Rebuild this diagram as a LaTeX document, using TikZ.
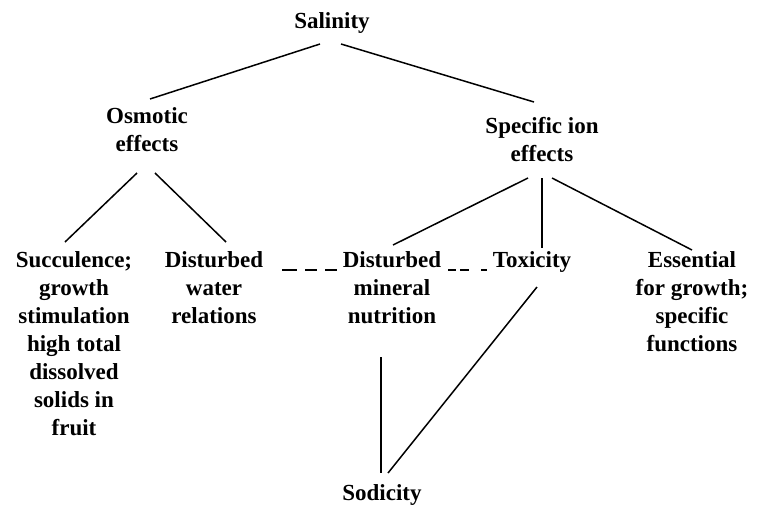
\documentclass[tikz,border=0pt]{standalone}
\usepackage{fontspec}
\setmainfont{Liberation Serif}
\begin{document}
\begin{tikzpicture}[x=1pt,y=-1pt,
  lbl/.style={anchor=base,inner sep=0pt,align=center,font=\fontsize{23}{28}\selectfont\bfseries},
  conn/.style={line width=1.5pt},
  dsh/.style={line width=2pt}]
\useasboundingbox (0,0) rectangle (758,504);
% base anchor = baseline of the last line
\node[lbl] (sal) at (332,28) {Salinity};
\node[lbl] (osm) at (147,151) {Osmotic\\effects};
\node[lbl] (spe) at (542,161) {Specific ion\\effects};
\node[lbl] (suc) at (74,435) {Succulence;\\growth\\stimulation\\high total\\dissolved\\solids in\\fruit};
\node[lbl] (wat) at (214,323) {Disturbed\\water\\relations};
\node[lbl] (min) at (392,323) {Disturbed\\mineral\\nutrition};
\node[lbl] (tox) at (532,267) {Toxicity};
\node[lbl] (ess) at (692,351) {Essential\\for growth;\\specific\\functions};
\node[lbl] (sod) at (382,500) {Sodicity};
% connectors
\draw[conn] ([shift={(-12,16)}]sal.base) -- ([shift={(3,-52)}]osm.base);
\draw[conn] ([shift={(9,16)}]sal.base) -- ([shift={(-8,-59)}]spe.base);
\draw[conn] ([shift={(-10,22)}]osm.base) -- ([shift={(-9,-193)}]suc.base);
\draw[conn] ([shift={(8,22)}]osm.base) -- ([shift={(12,-81)}]wat.base);
\draw[conn] ([shift={(-14,17)}]spe.base) -- ([shift={(1,-78)}]min.base);
\draw[conn] ([shift={(0,17)}]spe.base) -- ([shift={(10,-19)}]tox.base);
\draw[conn] ([shift={(10,17)}]spe.base) -- ([shift={(0,-101)}]ess.base);
\draw[dsh,dash pattern=on 15pt off 8pt on 12pt off 8pt on 12pt] ([shift={(68,-53)}]wat.base) -- ([shift={(-55,-53)}]min.base);
\draw[dsh,dash pattern=on 8pt off 4pt on 9pt off 12pt on 7pt] ([shift={(56,-53)}]min.base) -- ([shift={(-45,3)}]tox.base);
\draw[conn] ([shift={(-11,34)}]min.base) -- ([shift={(-1,-27)}]sod.base);
\draw[conn] ([shift={(5,20)}]tox.base) -- ([shift={(6,-27)}]sod.base);
\end{tikzpicture}
\end{document}
